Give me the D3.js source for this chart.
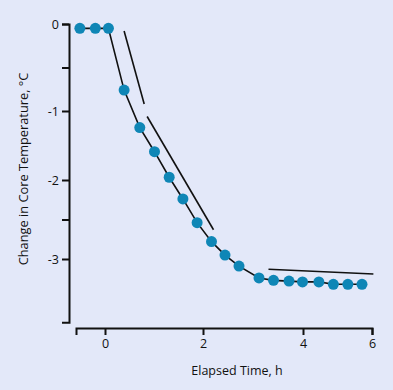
<!DOCTYPE html>
<html>
<head>
<meta charset="utf-8">
<script src="https://cdn.jsdelivr.net/npm/d3@7"></script>
<style>
  html, body { margin: 0; padding: 0; background: #e3e8f9; }
  svg { display: block; font-family: 'Open Sans', 'Noto Sans', sans-serif; }
</style>
</head>
<body>
<div id="chart"></div>
<script>
// Elapsed time (h) and change in core temperature (°C) for each measurement
const hours = [-0.52, -0.2, 0.07, 0.39, 0.71, 1.01, 1.31, 1.59, 1.88, 2.17,
  2.44, 2.72, 3.12, 3.41, 3.72, 3.99, 4.46, 4.88, 5.3, 5.71]
const tempChange = [-0.05, -0.05, -0.05, -0.76, -1.24, -1.59, -1.96, -2.24, -2.54, -2.78,
  -2.95, -3.09, -3.24, -3.27, -3.28, -3.29, -3.29, -3.32, -3.32, -3.32]

// Black slope guides drawn beside the curve, [x1, y1, x2, y2]
const guides = [
  [0.39, -0.08, 0.80, -0.92],
  [0.86, -1.08, 2.21, -2.63],
  [3.31, -3.13, 6.04, -3.19]
]

// Axis ticks and labels
const xTicks = [0, 2, 4, 6]
const yTicks = [0, -0.5, -1, -2, -2.5, -3]
const yLabelled = [0, -1, -2, -3]

const width = 393
const height = 390

const svg = d3.select('#chart')
  .append('svg')
  .attr('width', width)
  .attr('height', height)

// The printed axes are not evenly spaced, so use piecewise scales
const x = d3.scaleLinear()
  .domain([-0.6, 0, 2, 4, 6])
  .range([76, 105, 203, 303, 372])

const y = d3.scaleLinear()
  .domain([0, -1, -2, -3, -3.8])
  .range([24, 111, 180, 259, 322.2])

const xAxis = d3.axisBottom(x)
  .tickValues(xTicks)
  .tickSize(7)
  .tickSizeOuter(7)
  .tickPadding(4)
  .tickFormat(d => String(d))

const yAxis = d3.axisLeft(y)
  .tickValues(yTicks)
  .tickSize(7)
  .tickSizeOuter(7)
  .tickPadding(3)
  .tickFormat(d => yLabelled.includes(d) ? String(d) : '')

const styleAxis = g => {
  g.select('.domain').attr('stroke', '#111').attr('stroke-width', 2)
  g.selectAll('.tick line').attr('stroke', '#111').attr('stroke-width', 2)
  g.selectAll('.tick text').attr('font-size', 12.5).attr('fill', '#111')
    .attr('font-family', "'Open Sans', sans-serif")
}

// X axis
svg.append('g')
  .attr('transform', 'translate(0,328)')
  .call(xAxis)
  .call(styleAxis)

// Y axis
svg.append('g')
  .attr('transform', 'translate(69,0)')
  .call(yAxis)
  .call(styleAxis)

// Axis titles
svg.append('text')
  .attr('x', 237)
  .attr('y', 375)
  .attr('text-anchor', 'middle')
  .attr('font-size', 12.5)
  .attr('fill', '#111')
  .text('Elapsed Time, h')

svg.append('text')
  .attr('transform', 'translate(28,169) rotate(-90)')
  .attr('text-anchor', 'middle')
  .attr('font-size', 12.8)
  .attr('fill', '#111')
  .text('Change in Core Temperature, °C')

// Slope guides
svg.append('g')
  .selectAll('line')
  .data(guides)
  .join('line')
  .attr('x1', d => x(d[0]))
  .attr('y1', d => y(d[1]))
  .attr('x2', d => x(d[2]))
  .attr('y2', d => y(d[3]))
  .attr('stroke', '#111')
  .attr('stroke-width', 1.6)

const points = hours.map((h, i) => ({ h, t: tempChange[i] }))

// Line joining the measurements
const line = d3.line()
  .x(d => x(d.h))
  .y(d => y(d.t))

svg.append('path')
  .datum(points)
  .attr('fill', 'none')
  .attr('stroke', '#111')
  .attr('stroke-width', 1.6)
  .attr('d', line)

// Measurement dots
svg.append('g')
  .selectAll('circle')
  .data(points)
  .join('circle')
  .attr('cx', d => x(d.h))
  .attr('cy', d => y(d.t))
  .attr('r', 5.5)
  .attr('fill', '#0f86b6')
</script>
</body>
</html>
